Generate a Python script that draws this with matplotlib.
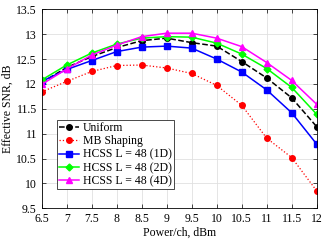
import matplotlib
matplotlib.use("Agg")
import matplotlib.pyplot as plt

power = [6.5, 7, 7.5, 8, 8.5, 9, 9.5, 10, 10.5, 11, 11.5, 12]
uniform = [12.03, 12.33, 12.55, 12.73, 12.87, 12.92, 12.83, 12.76, 12.45, 12.12, 11.72, 11.14]
mb = [11.84, 12.05, 12.25, 12.37, 12.38, 12.32, 12.21, 11.97, 11.57, 10.91, 10.52, 9.85]
hcss1 = [12.05, 12.29, 12.47, 12.65, 12.74, 12.76, 12.72, 12.50, 12.24, 11.88, 11.42, 10.79]
hcss2 = [12.08, 12.38, 12.62, 12.80, 12.92, 12.95, 12.94, 12.82, 12.60, 12.31, 11.93, 11.39]
hcss4 = [11.99, 12.30, 12.58, 12.78, 12.95, 13.02, 13.02, 12.92, 12.75, 12.43, 12.07, 11.59]
labels = ["Uniform", "MB Shaping", "HCSS L = 48 (1D)", "HCSS L = 48 (2D)", "HCSS L = 48 (4D)"]
xticks = [6.5, 7, 7.5, 8, 8.5, 9, 9.5, 10, 10.5, 11, 11.5, 12]
yticks = [9.5, 10, 10.5, 11, 11.5, 12, 12.5, 13, 13.5]

plt.rcParams['font.family'] = ['Liberation Serif', 'DejaVu Serif']
fig = plt.figure(figsize=(3.29, 2.41), dpi=100)
ax = fig.add_axes([41.7/329, 1-208.3/241, (316.7-41.7)/329, (208.3-9.3)/241])

ms = 4
ax.plot(power, uniform, 'k--', marker='o', ms=ms, lw=1.1, label=labels[0])
ax.plot(power, mb, color=(1, 0, 0), ls=':', marker='o', ms=ms, lw=0.9, label=labels[1])
ax.plot(power, hcss1, color=(0, 0, 1), ls='-', marker='s', ms=ms, lw=1.1, label=labels[2])
ax.plot(power, hcss2, color=(0, 1, 0), ls='-', marker='D', ms=ms-0.5, lw=1.1, label=labels[3])
ax.plot(power, hcss4, color=(1, 0, 1), ls='-', marker='^', ms=ms, lw=1.1, label=labels[4])

ax.set_xlim(6.5, 12)
ax.set_ylim(9.5, 13.5)
ax.set_xticks(xticks)
ax.set_xticklabels([f"{v:g}" for v in xticks])
ax.set_yticks(yticks)
ax.set_yticklabels([f"{v:g}" for v in yticks])
ax.tick_params(direction='in', labelsize=8.5, length=3, width=0.5, top=True, right=True)
ax.grid(True, color='#e0e0e0', lw=0.6)
ax.set_axisbelow(True)
for s in ax.spines.values():
    s.set_linewidth(0.6)
ax.set_xlabel("Power/ch, dBm", fontsize=8.5, labelpad=1)
ax.set_ylabel("Effective SNR, dB", fontsize=8.5, labelpad=2)
leg = ax.legend(loc='lower left', bbox_to_anchor=(0.055, 0.095), fontsize=8.5, frameon=True,
                fancybox=False, edgecolor='black', framealpha=1, borderpad=0.2,
                labelspacing=0.1, handlelength=1.7, handletextpad=0.3, borderaxespad=0)
leg.get_frame().set_linewidth(0.5)
fig.savefig("out.png", dpi=100)
